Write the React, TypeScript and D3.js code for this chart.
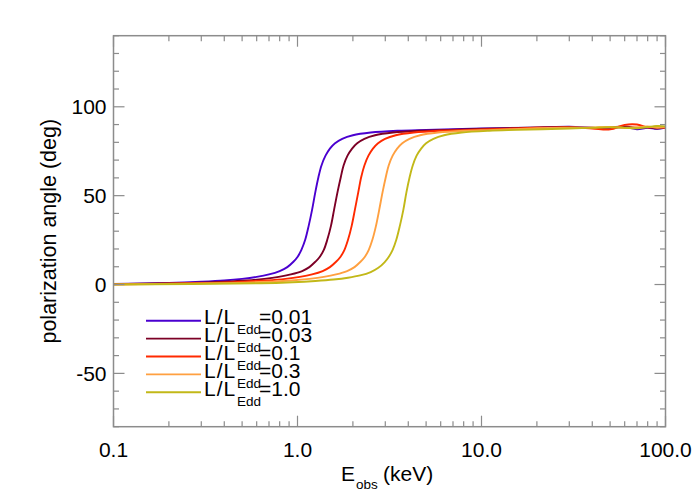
import React from 'react';
import * as d3 from 'd3';

// energies (keV) and polarization angles (deg)
const eBlue = [0.1, 0.2, 0.3, 0.4, 0.5, 0.6, 0.7, 0.8, 0.88, 0.95, 1.0, 1.05, 1.1, 1.15, 1.2, 1.25, 1.3, 1.35, 1.42, 1.5, 1.6, 1.75, 2.0, 2.5, 3.5, 5.0, 10, 20, 30, 40, 50, 60, 70, 80, 90, 100];
const aBlue = [0.3, 0.9, 1.6, 2.3, 3.2, 4.3, 5.7, 7.6, 9.8, 12.8, 15.5, 19.5, 25, 33, 42, 52, 60.5, 67, 72.5, 76.5, 79.5, 82, 84, 85.5, 86.5, 87, 87.8, 88.3, 88.8, 88.2, 88.0, 88.6, 87.4, 88.2, 87.6, 88.3];

const eDark = [0.1, 0.26, 0.4, 0.53, 0.66, 0.79, 0.92, 1.06, 1.16, 1.25, 1.32, 1.39, 1.45, 1.52, 1.58, 1.65, 1.72, 1.78, 1.87, 1.98, 2.11, 2.31, 2.64, 3.3, 4.6, 6.6, 12, 20, 30, 40, 50, 60, 70, 80, 90, 100];
const aDark = [0.2, 0.9, 1.6, 2.3, 3.2, 4.3, 5.7, 7.6, 9.8, 12.8, 15.5, 19.5, 25, 33, 42, 52, 60.5, 67, 72.5, 76.5, 79.5, 82, 84, 85.5, 86.5, 87, 87.8, 88.4, 88.6, 88.0, 88.4, 88.9, 88.1, 88.5, 87.8, 88.6];

const eRed = [0.1, 0.34, 0.51, 0.68, 0.86, 1.03, 1.2, 1.37, 1.5, 1.62, 1.71, 1.8, 1.88, 1.97, 2.05, 2.14, 2.22, 2.31, 2.43, 2.57, 2.74, 2.99, 3.42, 4.28, 6.0, 8.5, 15, 20, 30, 40, 50, 60, 70, 80, 90, 100];
const aRed = [0.1, 0.9, 1.6, 2.3, 3.2, 4.3, 5.7, 7.6, 9.8, 12.8, 15.5, 19.5, 25, 33, 42, 52, 60.5, 67, 72.5, 76.5, 79.5, 82, 84, 85.5, 86.5, 87, 87.8, 88.2, 88.4, 87.8, 87.3, 89.8, 90, 88.4, 88.9, 88.0];

const eOrange = [0.1, 0.46, 0.7, 0.93, 1.16, 1.39, 1.62, 1.86, 2.04, 2.2, 2.32, 2.44, 2.55, 2.67, 2.78, 2.9, 3.02, 3.13, 3.29, 3.48, 3.71, 4.06, 4.64, 5.8, 8.1, 11.6, 20, 30, 40, 50, 60, 70, 80, 90, 100];
const aOrange = [0.05, 0.9, 1.6, 2.3, 3.2, 4.3, 5.7, 7.6, 9.8, 12.8, 15.5, 19.5, 25, 33, 42, 52, 60.5, 67, 72.5, 76.5, 79.5, 82, 84, 85.5, 86.5, 87, 88, 88.3, 88.4, 88.7, 88.1, 88.5, 88.9, 88.2, 88.7];

const eOlive = [0.1, 0.63, 0.94, 1.25, 1.57, 1.88, 2.19, 2.5, 2.75, 2.97, 3.13, 3.29, 3.44, 3.6, 3.76, 3.91, 4.07, 4.23, 4.44, 4.7, 5.0, 5.48, 6.26, 7.8, 11, 15.6, 30, 40, 50, 60, 70, 80, 90, 100];
const aOlive = [0.0, 0.7, 1.3, 2.0, 2.8, 3.8, 5.1, 7.0, 9.4, 12.5, 15.5, 19.5, 25, 33, 42, 52, 60.5, 67, 72.5, 76.5, 79.5, 82, 84, 85.5, 86.5, 87, 87.8, 88.2, 88.5, 88.2, 87.9, 88.6, 89.2, 89.0];

const labels = ['0.01', '0.03', '0.1', '0.3', '1.0'];
const colors = ['#4a00d0', '#7c0026', '#ff2a00', '#ffa040', '#c2b818'];

const xTickValues = [0.1, 1, 10, 100];
const xTickLabels = ['0.1', '1.0', '10.0', '100.0'];
const yTickValues = [-50, 0, 50, 100];

const series = [
  { e: eBlue, a: aBlue },
  { e: eDark, a: aDark },
  { e: eRed, a: aRed },
  { e: eOrange, a: aOrange },
  { e: eOlive, a: aOlive },
];

const W = 700;
const H = 500;
const margin = { top: 35.7, right: 34.5, bottom: 73.3, left: 113.5 };
const axisColor = '#8c8c8c';
const font = '"Liberation Sans", Arial, Helvetica, sans-serif';
const fs = 21;

export default function App() {
  const x = d3.scaleLog().domain([0.1, 100]).range([margin.left, W - margin.right]);
  const y = d3.scaleLinear().domain([-80, 140]).range([H - margin.bottom, margin.top]);

  const line = d3.line<[number, number]>()
    .x(d => x(d[0]))
    .y(d => y(d[1]))
    .curve(d3.curveCatmullRom.alpha(0.5));

  const minorX: number[] = [];
  [0.1, 1, 10].forEach(dec => {
    for (let k = 2; k <= 9; k++) minorX.push(dec * k);
  });
  const minorY = d3.range(-80, 141, 10).filter(v => v % 50 !== 0);

  const x0 = margin.left, x1 = W - margin.right;
  const y0 = H - margin.bottom, y1 = margin.top;
  const major = 11, minor = 5.5;

  return (
    <svg width={W} height={H} style={{ position: 'absolute', left: 0, top: 0, background: '#fff' }} fontFamily={font}>
      <clipPath id="plot">
        <rect x={x0} y={y1} width={x1 - x0} height={y0 - y1} />
      </clipPath>
      <g clipPath="url(#plot)">
        {series.map((s, i) => (
          <path key={i} d={line(s.e.map((e, j) => [e, s.a[j]]) as [number, number][]) || ''}
            fill="none" stroke={colors[i]} strokeWidth={1.9} />
        ))}
      </g>

      {/* frame */}
      <rect x={x0} y={y1} width={x1 - x0} height={y0 - y1} fill="none" stroke={axisColor} strokeWidth={1.5} />

      {/* x ticks, bottom and top */}
      {xTickValues.map(v => (
        <g key={'xm' + v}>
          <line x1={x(v)} x2={x(v)} y1={y0} y2={y0 - major} stroke={axisColor} strokeWidth={1.2} />
          <line x1={x(v)} x2={x(v)} y1={y1} y2={y1 + major} stroke={axisColor} strokeWidth={1.2} />
        </g>
      ))}
      {minorX.map(v => (
        <g key={'xn' + v}>
          <line x1={x(v)} x2={x(v)} y1={y0} y2={y0 - minor} stroke={axisColor} strokeWidth={1.2} />
          <line x1={x(v)} x2={x(v)} y1={y1} y2={y1 + minor} stroke={axisColor} strokeWidth={1.2} />
        </g>
      ))}
      {xTickValues.map((v, i) => (
        <text key={'xl' + v} x={x(v)} y={457} textAnchor="middle" fontSize={fs} fill="#000">{xTickLabels[i]}</text>
      ))}

      {/* y ticks, left and right */}
      {yTickValues.map(v => (
        <g key={'ym' + v}>
          <line x1={x0} x2={x0 + major} y1={y(v)} y2={y(v)} stroke={axisColor} strokeWidth={1.2} />
          <line x1={x1} x2={x1 - major} y1={y(v)} y2={y(v)} stroke={axisColor} strokeWidth={1.2} />
          <text x={106.5} y={y(v)} dy="0.36em" textAnchor="end" fontSize={fs} fill="#000">{v}</text>
        </g>
      ))}
      {minorY.map(v => (
        <g key={'yn' + v}>
          <line x1={x0} x2={x0 + minor} y1={y(v)} y2={y(v)} stroke={axisColor} strokeWidth={1.2} />
          <line x1={x1} x2={x1 - minor} y1={y(v)} y2={y(v)} stroke={axisColor} strokeWidth={1.2} />
        </g>
      ))}

      {/* axis titles */}
      <text x={341} y={481} fontSize={fs} fill="#000">
        E<tspan x={356} dy={8} fontSize={13.5}>obs</tspan><tspan x={383} dy={-8} fontSize={fs}>(keV)</tspan>
      </text>
      <text transform={`translate(56,${(y0 + y1) / 2}) rotate(-90)`} textAnchor="middle" fontSize={21.5} fill="#000">
        polarization angle (deg)
      </text>

      {/* legend */}
      {labels.map((lab, i) => {
        const ly = 320.7 + 17.9 * i;
        const by = 324 + 18 * i;
        return (
          <g key={'lg' + i}>
            <line x1={146} x2={201} y1={ly} y2={ly} stroke={colors[i]} strokeWidth={1.9} />
            <text y={by} fontSize={fs} fill="#000">
              <tspan x={204} letterSpacing={1}>L/L</tspan>
              <tspan x={237} dy={10} fontSize={13.5}>Edd</tspan>
              <tspan x={259} dy={-10} fontSize={fs}>={lab}</tspan>
            </text>
          </g>
        );
      })}
    </svg>
  );
}
